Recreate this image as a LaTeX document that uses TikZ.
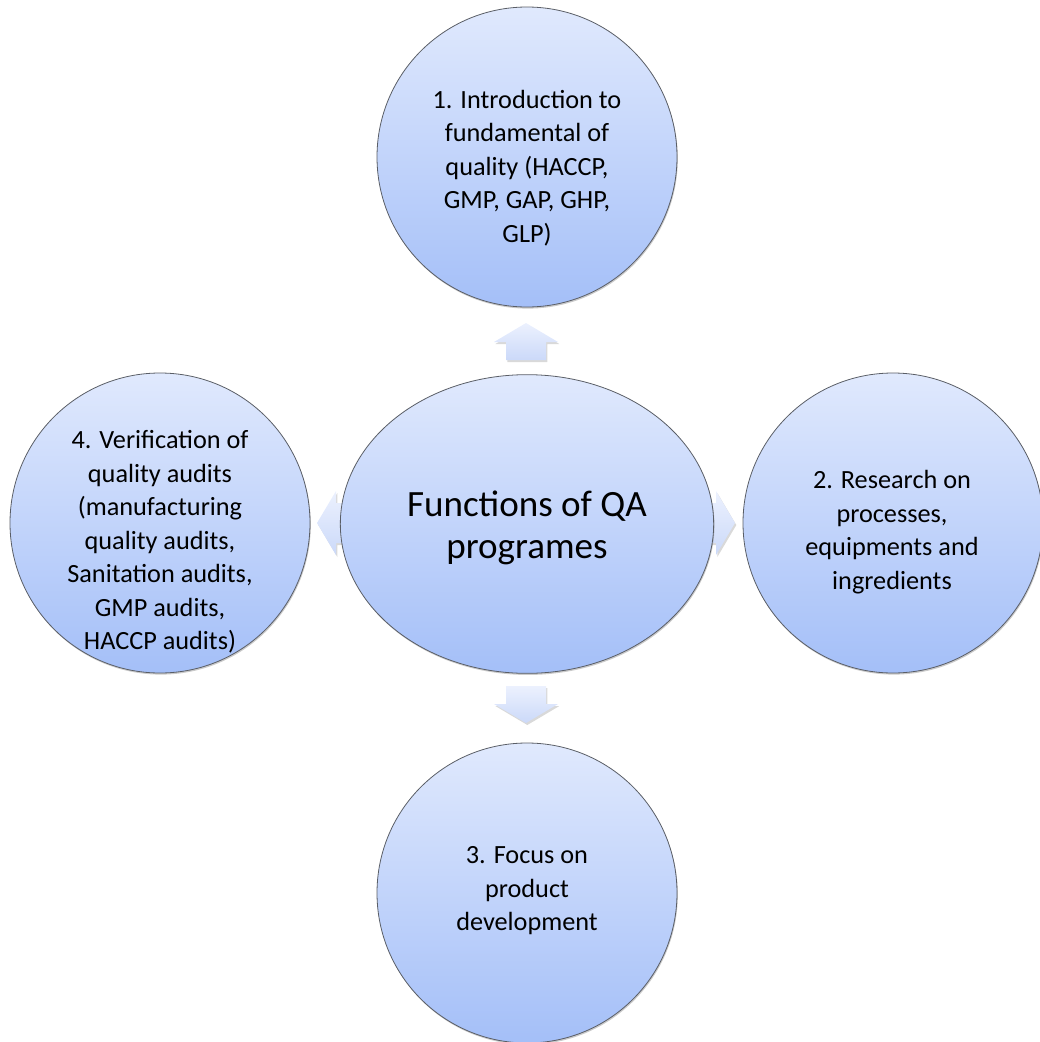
\documentclass[tikz,border=0pt]{standalone}
\usepackage{fontspec}
\setmainfont{Carlito}
\usetikzlibrary{shapes.geometric,shadows}

\definecolor{bubbleTop}{HTML}{E0E9FD}
\definecolor{bubbleBot}{HTML}{A4BFF8}
\definecolor{bubbleEdge}{HTML}{5A5E66}
\definecolor{arrowTop}{HTML}{ECF1FE}
\definecolor{arrowBot}{HTML}{CBD9F9}

\tikzset{
  bubble/.style={circle, minimum size=225pt, inner sep=0pt,
    draw=bubbleEdge, line width=0.6pt,
    top color=bubbleTop, bottom color=bubbleBot,
    drop shadow={shadow xshift=0.6pt, shadow yshift=-1.2pt, opacity=0.35, fill=black!60}},
  hub/.style={ellipse, minimum width=280pt, minimum height=224pt, inner sep=0pt,
    draw=bubbleEdge, line width=0.6pt,
    top color=bubbleTop, bottom color=bubbleBot,
    drop shadow={shadow xshift=0.6pt, shadow yshift=-1.2pt, opacity=0.35, fill=black!60}},
  bubbletext/.style={align=center, inner sep=0pt,
    font=\fontsize{19.7pt}{25.1pt}\selectfont},
  hubtext/.style={align=center, inner sep=0pt,
    font=\fontsize{27.8pt}{31.5pt}\selectfont},
  blockarrow/.pic={
    % arrow pointing up, tip at the origin (units are pixels, y grows downward)
    \path[top color=arrowTop, bottom color=arrowBot,
      drop shadow={shadow xshift=1pt, shadow yshift=-1.5pt, opacity=0.3, fill=black!50}]
      (0,0) -- (32,19) -- (20,19) -- (20,37) -- (-20,37) -- (-20,19) -- (-32,19) -- cycle;
  }
}

\begin{document}
\begin{tikzpicture}[x=0.75pt, y=-0.75pt]
\useasboundingbox (0,0) rectangle (1039,1042);

% block arrows sit behind the bubbles
\coordinate (upTip) at (526,323);
\coordinate (downTip) at (526,723);
\coordinate (leftTip) at (317,523);
\coordinate (rightTip) at (735,523);
\pic at (upTip) {blockarrow};
\pic[rotate=180] at (downTip) {blockarrow};
\pic[rotate=90] at (leftTip) {blockarrow};
\pic[rotate=-90] at (rightTip) {blockarrow};

% bubbles
\node[bubble] (intro) at (527,157) {};
\node[bubble] (research) at (893,523) {};
\node[bubble] (focus) at (527,893) {};
\node[bubble] (verify) at (160,523) {};
\node[hub] (qa) at (527,524) {};

% labels
\node[bubbletext] (introText) at (527,168)
  {1. Introduction to\\fundamental of\\quality (HACCP,\\GMP, GAP, GHP,\\GLP)};
\node[bubbletext] (researchText) at (892,532)
  {2. Research on\\processes,\\equipments and\\ingredients};
\node[bubbletext] (focusText) at (527,891)
  {3. Focus on\\product\\development};
\node[bubbletext] (verifyText) at (160,542)
  {4. Verification of\\quality audits\\(manufacturing\\quality audits,\\Sanitation audits,\\GMP audits,\\HACCP audits)};
\node[hubtext] (qaText) at (527,528) {Functions of QA\\programes};
\end{tikzpicture}
\end{document}
